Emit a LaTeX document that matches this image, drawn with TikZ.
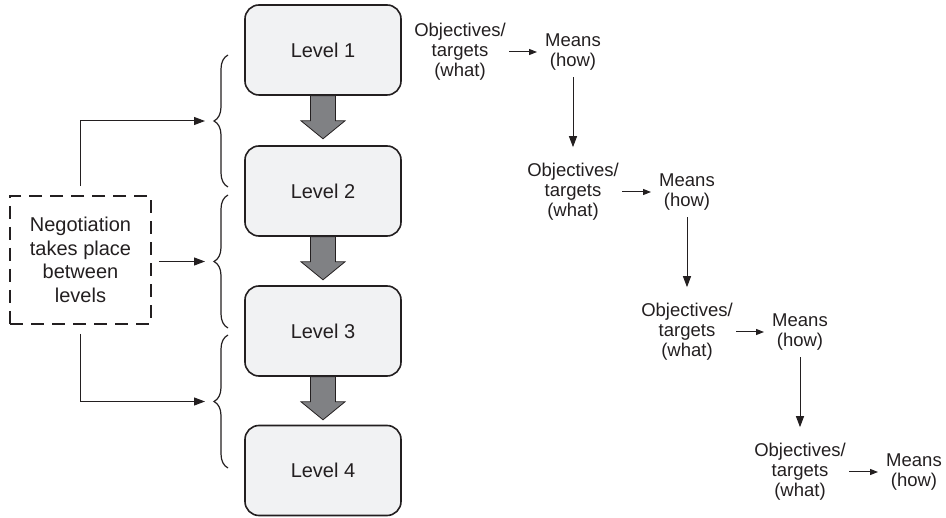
\documentclass[tikz,border=0pt]{standalone}
\usepackage{fontspec}
\setmainfont{Liberation Sans}
\usetikzlibrary{calc,arrows.meta,decorations.pathreplacing}
\definecolor{ink}{HTML}{231F20}
\definecolor{boxfill}{HTML}{F1F2F3}
\definecolor{flow}{HTML}{808184}

\begin{document}
\begin{tikzpicture}[x=1pt,y=-1pt,
  levelbox/.style={draw=ink, line width=1.6pt, fill=boxfill, rounded corners=14pt,
    minimum width=156pt, minimum height=90pt, inner sep=0pt, text=ink,
    font=\fontsize{20}{24}\selectfont},
  negbox/.style={draw=ink, line width=1.8pt, dash pattern=on 13pt off 8pt,
    minimum width=141pt, minimum height=128pt, align=center, inner sep=0pt,
    text=ink, font=\fontsize{20}{23.5}\selectfont},
  goal/.style={align=center, inner sep=0pt, text=ink,
    font=\fontsize{18.5}{20}\selectfont},
  link/.style={draw=ink, line width=1pt, -{Triangle[length=11pt,width=8pt]}},
  smalllink/.style={draw=ink, line width=1pt, -{Triangle[length=8pt,width=6pt]}},
  bracket/.style={draw=ink, line width=1.2pt, decorate,
    decoration={brace, amplitude=14pt}},
  flowarrow/.style={fill=flow, draw=ink, line width=0.8pt, line join=miter}
]
\useasboundingbox (0,0) rectangle (946,518);

% the four levels
\node[levelbox] (L1) at (323,50)  {Level 1};
\node[levelbox] (L2) at (323,191) {Level 2};
\node[levelbox] (L3) at (323,331) {Level 3};
\node[levelbox] (L4) at (323,470.5) {Level 4};

% broad downward arrows between levels
\foreach \a in {L1,L2,L3}
  \draw[flowarrow] ($(\a.south)+(-12.5,0)$) -- ++(0,25) -- ++(-9.5,0)
    -- ($(\a.south)+(0,43)$) -- ($(\a.south)+(22,25)$) -- ++(-9.5,0)
    -- ++(0,-25) -- cycle;

% braces spanning neighbouring levels
\coordinate (b1top) at (228,55);  \coordinate (b1bot) at (228,187);
\coordinate (b2top) at (228,195); \coordinate (b2bot) at (228,328);
\coordinate (b3top) at (228,335); \coordinate (b3bot) at (228,468);
\draw[bracket] (b1bot) -- (b1top);
\draw[bracket] (b2bot) -- (b2top);
\draw[bracket] (b3bot) -- (b3top);
\coordinate (b1) at (213,121);
\coordinate (b2) at (213,261.5);
\coordinate (b3) at (213,401.5);

% negotiation box and its arrows
\node[negbox] (neg) at (80.5,260) {Negotiation\\takes place\\between\\levels};
\draw[link, shorten <=9pt, shorten >=8pt] (neg.north) |- (b1);
\draw[link, shorten <=7pt, shorten >=8pt] (neg.east |- b2) -- (b2);
\draw[link, shorten <=9pt, shorten >=8pt] (neg.south) |- (b3);

% objectives and means cascade
\node[goal] (o1) at (460,52)  {Objectives/\\targets\\(what)};
\node[goal] (m1) at (573,52)  {Means\\(how)};
\node[goal] (o2) at (573,192) {Objectives/\\targets\\(what)};
\node[goal] (m2) at (687,192) {Means\\(how)};
\node[goal] (o3) at (687,332) {Objectives/\\targets\\(what)};
\node[goal] (m3) at (800,332) {Means\\(how)};
\node[goal] (o4) at (800,472) {Objectives/\\targets\\(what)};
\node[goal] (m4) at (914,472) {Means\\(how)};

\foreach \o/\m in {o1/m1,o2/m2,o3/m3,o4/m4}
  \draw[smalllink, shorten <=3.5pt, shorten >=8pt] (\o.east) -- (\m.west);
\foreach \m/\o in {m1/o2,m2/o3,m3/o4}
  \draw[link, shorten <=7pt, shorten >=16pt] (\m.south) -- (\o.north);
\end{tikzpicture}
\end{document}
